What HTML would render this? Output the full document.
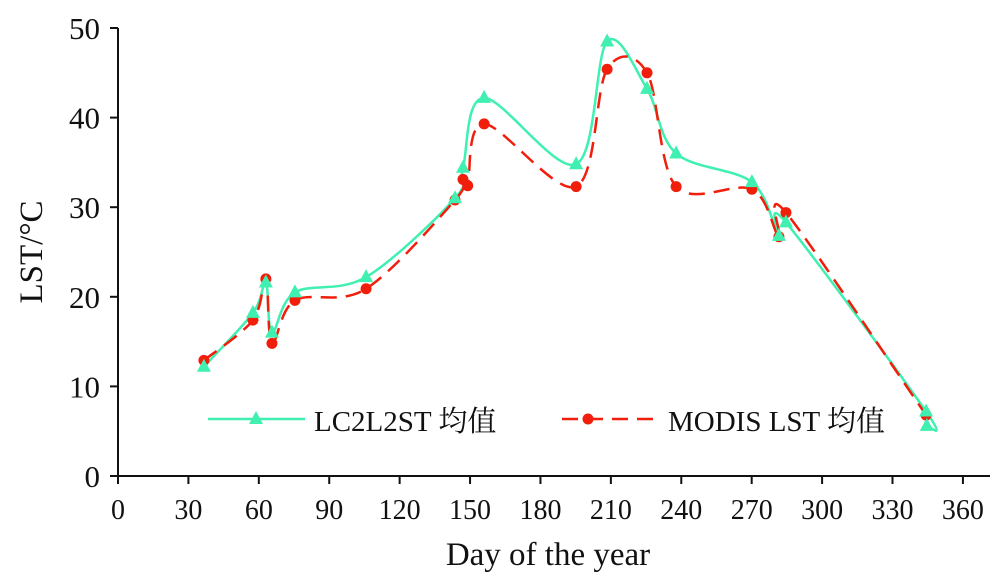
<!DOCTYPE html>
<html><head><meta charset="utf-8"><style>
body{margin:0;background:#fff}
svg text{font-family:"Liberation Serif","Noto Serif CJK SC","Noto Sans CJK SC",serif;fill:#111}
</style></head><body>
<svg id="chart" width="1000" height="577" xmlns="http://www.w3.org/2000/svg">
<g id="axes"></g>
<g id="series"></g>
<g id="legend"></g>
</svg>
<script>
const xTicks=[0,30,60,90,120,150,180,210,240,270,300,330,360];
const yTicks=[0,10,20,30,40,50];
const lcDays=[36.6,57.5,63,65.6,75.4,105.7,143.6,147,156,195.2,208.4,225.4,237.8,270.1,281.6,284.6,344.3,344.6];
const lcVals=[12.2,18.2,21.6,16.0,20.5,22.2,31.0,34.4,42.2,34.8,48.5,43.2,36.0,32.8,26.8,28.3,7.2,5.6];
const modDays=[36.6,57.5,63,65.6,75.4,105.7,143.6,147,149,156,195.2,208.4,225.4,237.8,270.1,281.6,284.6,344.3];
const modVals=[12.9,17.4,22.0,14.8,19.6,20.9,30.8,33.1,32.4,39.3,32.3,45.4,45.0,32.3,32.0,26.7,29.4,6.8];
const X=d=>118+d*2.347, Y=v=>476-v*(448/50);
const NS="http://www.w3.org/2000/svg";
function mk(tag,attrs,parent){const e=document.createElementNS(NS,tag);for(const k in attrs)e.setAttribute(k,attrs[k]);parent.appendChild(e);return e;}
const axes=document.getElementById('axes');
let e=mk('line',{x1:118,y1:28,x2:118,y2:476,stroke:'#111','stroke-width':2},axes);


e=mk('line',{x1:118,y1:476,x2:990,y2:476,stroke:'#111','stroke-width':2},axes);


xTicks.forEach(t=>{
  mk('line',{x1:X(t),y1:476,x2:X(t),y2:484,stroke:'#111','stroke-width':2},axes);
  const tx=mk('text',{x:X(t),y:519,'text-anchor':'middle','font-size':28},axes);tx.textContent=t;
  
  
});
yTicks.forEach(t=>{
  mk('line',{x1:110,y1:Y(t),x2:118,y2:Y(t),stroke:'#111','stroke-width':2},axes);
  const tx=mk('text',{x:100,y:Y(t)+11,'text-anchor':'end','font-size':31},axes);tx.textContent=t;
  
  
});
e=mk('text',{x:548,y:565,'text-anchor':'middle','font-size':33},axes);e.textContent='Day of the year';


e=mk('text',{x:0,y:0,'text-anchor':'middle','font-size':33,transform:'translate(42,252) rotate(-90)'},axes);e.textContent='LST/°C';


function spline(ds,vs){
  const p=ds.map((d,i)=>[X(d),Y(vs[i])]);
  let s='M'+p[0][0]+','+p[0][1];
  for(let i=0;i<p.length-1;i++){
    const p0=p[i-1]||p[i],p1=p[i],p2=p[i+1],p3=p[i+2]||p2;
    const c1=[p1[0]+(p2[0]-p0[0])/6,p1[1]+(p2[1]-p0[1])/6];
    const c2=[p2[0]-(p3[0]-p1[0])/6,p2[1]-(p3[1]-p1[1])/6];
    s+=' C'+c1+' '+c2+' '+p2;
  }
  return s;
}
const ser=document.getElementById('series');
const G='#3ff0b0', R='#f01e0a';
e=mk('path',{d:spline(lcDays,lcVals),fill:'none',stroke:G,'stroke-width':2.5},ser);


e=mk('path',{d:spline(modDays,modVals),fill:'none',stroke:R,'stroke-width':2.5,'stroke-dasharray':'16,9'},ser);


function tri(x,y,p){return mk('polygon',{points:`${x},${y-8} ${x-7},${y+5} ${x+7},${y+5}`,fill:G},p);}
modDays.forEach((d,i)=>{
  const c=mk('circle',{cx:X(d),cy:Y(modVals[i]),r:5.5,fill:R},ser);
  
  
});
lcDays.forEach((d,i)=>{
  const t=tri(X(d),Y(lcVals[i]),ser);
  
  
});
const lg=document.getElementById('legend');
e=mk('line',{x1:208,y1:419,x2:305,y2:419,stroke:G,'stroke-width':2.5},lg);


tri(256,419,lg);
e=mk('text',{x:314,y:431,'font-size':29},lg);e.textContent='LC2L2ST 均值';


e=mk('line',{x1:562,y1:419,x2:660,y2:419,stroke:R,'stroke-width':2.5,'stroke-dasharray':'16,9'},lg);


mk('circle',{cx:588,cy:419,r:5.5,fill:R},lg);
e=mk('text',{x:668,y:431,'font-size':29},lg);e.textContent='MODIS LST 均值';


</script>
</body></html>
